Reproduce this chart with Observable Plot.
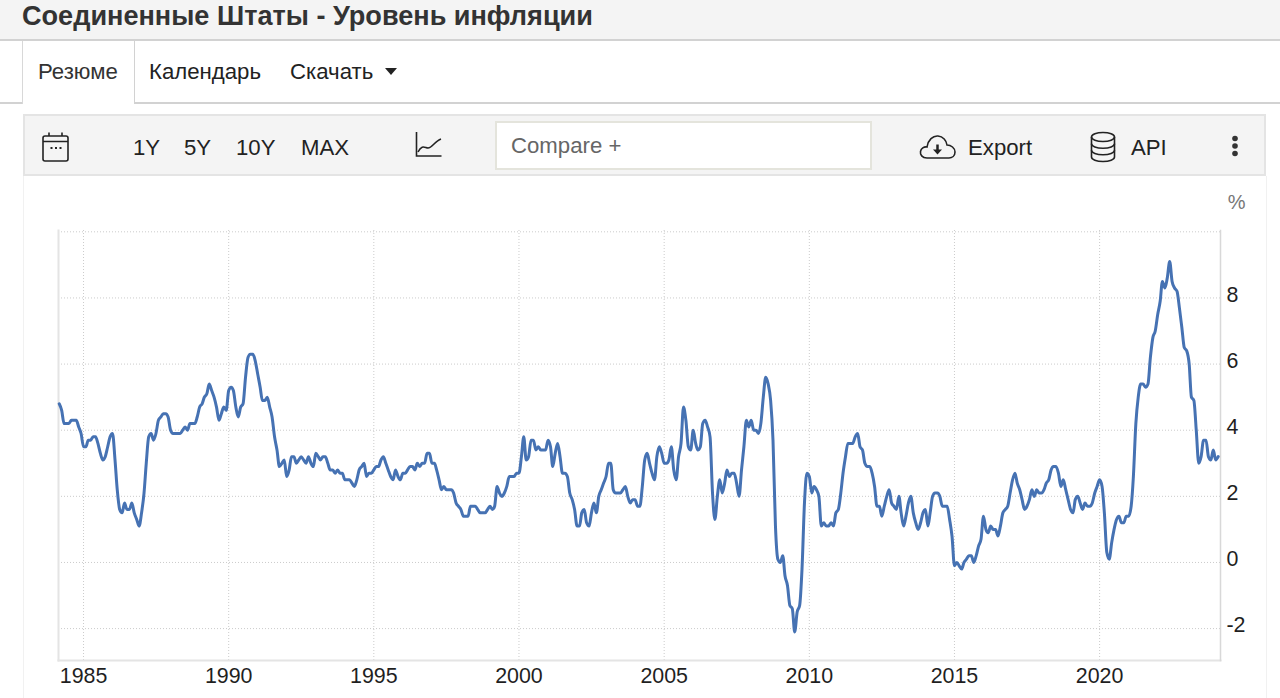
<!DOCTYPE html>
<html lang="ru">
<head>
<meta charset="utf-8">
<title>Соединенные Штаты - Уровень инфляции</title>
<script src="https://cdn.jsdelivr.net/npm/d3@7"></script>
<script src="https://cdn.jsdelivr.net/npm/@observablehq/plot@0.6"></script>
<style>
  html,body{margin:0;padding:0;background:#fff;width:1280px;height:698px;overflow:hidden;font-family:"Liberation Sans",Arial,sans-serif;color:#222;}
  .abs{position:absolute;white-space:nowrap;}
  #titlebar{left:0;top:0;width:1280px;height:39px;background:#f4f4f4;border-bottom:2px solid #d2d2d2;}
  #title{left:22px;top:0;font-size:27.1px;font-weight:bold;color:#333;line-height:32px;height:32px;}
  .tabline{top:102px;height:2px;background:#d2d2d2;}
  #active{left:22px;top:41px;width:111px;height:63px;background:#fff;border-left:1px solid #d8d8d8;border-right:1px solid #d2d2d2;}
  .tab{top:59px;font-size:22.2px;line-height:26px;color:#222;}
  #caret{left:385px;top:68px;width:0;height:0;border-left:6.5px solid transparent;border-right:6.5px solid transparent;border-top:7px solid #222;}
  #toolbar{left:23px;top:114px;width:1239px;height:58px;background:#f4f4f4;border:2px solid #e4e4e4;}
  #compare{left:495px;top:121px;width:373px;height:45px;background:#fff;border:2px solid #e4e4dc;}
  .tool{top:134px;font-size:22.2px;line-height:28px;color:#222;}
  #panelL{left:23px;top:176px;width:1px;height:522px;background:#f1f1f1;}
  #panelR{left:1266px;top:176px;width:1px;height:522px;background:#f1f1f1;}
  #chart{position:absolute;left:0;top:176px;}
  svg.icon{position:absolute;fill:none;stroke:#222;stroke-width:1.6;}
</style>
</head>
<body>
<div class="abs" id="titlebar"></div>
<div class="abs" id="title">Соединенные Штаты - Уровень инфляции</div>
<div class="abs tabline" style="left:0;width:22px"></div>
<div class="abs tabline" style="left:134px;width:1146px"></div>
<div class="abs" id="active"></div>
<div class="abs tab" style="left:38px;color:#333">Резюме</div>
<div class="abs tab" style="left:149px">Календарь</div>
<div class="abs tab" style="left:290px">Скачать</div>
<div class="abs" id="caret"></div>
<div class="abs" id="toolbar"></div>
<div class="abs" id="compare"></div>
<div class="abs tool" style="left:133px">1Y</div>
<div class="abs tool" style="left:184px">5Y</div>
<div class="abs tool" style="left:236px">10Y</div>
<div class="abs tool" style="left:301px">MAX</div>
<div class="abs tool" style="left:511px;top:132px;color:#666">Compare +</div>
<div class="abs tool" style="left:968px">Export</div>
<div class="abs tool" style="left:1131px">API</div>
<svg class="icon" style="left:41px;top:131px" width="30" height="32" viewBox="0 0 30 32">
  <rect x="2" y="5" width="25" height="25" rx="2"/><path d="M2 10.5H27M8 1.5V5M21 1.5V5"/>
  <path d="M9.5 17h2M14 17h2M18.5 17h2" stroke-width="2.2"/>
</svg>
<svg class="icon" style="left:414px;top:130px" width="30" height="30" viewBox="0 0 30 30">
  <path d="M2.5 2V26H27.500"/><path d="M4 22C8 14 11 18 14 18C18 18 21 11 27 9"/>
</svg>
<svg class="icon" style="left:919px;top:133px" width="38" height="28" viewBox="0 0 38 28">
  <path d="M8 25C3 25 1 21.500 1.500 18.500C2 15.500 5 13.500 8 14C9 7 14 2.500 19 3C24 3.500 27.500 7.500 28 12C32 12 36 15 36 19C36 23 33 25 30 25Z"/>
  <path d="M18.500 11.500V17" stroke-width="2.500"/><path d="M14 16.500H23L18.500 21.500Z" fill="#222" stroke="none"/>
</svg>
<svg class="icon" style="left:1089px;top:131px" width="28" height="32" viewBox="0 0 28 32">
  <ellipse cx="14" cy="6" rx="11.500" ry="4.500"/><path d="M2.500 6V26C2.500 28.500 7.500 30.500 14 30.500C20.500 30.500 25.500 28.500 25.500 26V6"/>
  <path d="M2.500 12.700C2.500 15.200 7.500 17.200 14 17.200C20.500 17.200 25.500 15.200 25.500 12.700M2.500 19.300C2.500 21.800 7.500 23.800 14 23.800C20.500 23.800 25.500 21.800 25.500 19.300"/>
</svg>
<svg class="icon" style="left:1229px;top:134px" width="12" height="24" viewBox="0 0 12 24">
  <circle cx="6" cy="4.500" r="2.800" fill="#333" stroke="none"/><circle cx="6" cy="12" r="2.800" fill="#333" stroke="none"/><circle cx="6" cy="19.500" r="2.800" fill="#333" stroke="none"/>
</svg>
<div class="abs" id="panelL"></div>
<div class="abs" id="panelR"></div>
<div id="chart"></div>
<script>
// US year-on-year inflation, %, one value per month, first value March 1984
const firstMonth = new Date(Date.UTC(1984, 2, 1));
const values1984to1989 = [
  4.8,4.6,4.2,4.2,4.2,4.3,4.3,4.3,4.1,3.9,
  3.5,3.5,3.7,3.7,3.8,3.8,3.6,3.3,3.1,3.2,3.5,3.8,
  3.9,3.1,2.2,1.6,1.5,1.8,1.6,1.6,1.8,1.5,1.3,1.1,
  1.5,2.1,3.0,3.8,3.9,3.7,3.9,4.3,4.4,4.5,4.5,4.4,
  4.0,3.9,3.9,3.9,3.9,4.0,4.1,4.0,4.2,4.2,4.2,4.4,
  4.7,4.8,5.0,5.1,5.4,5.2,5.0,4.7,4.3,4.5,4.7,4.6
];
const values1990s = [
  5.2,5.3,5.2,4.7,4.4,4.7,4.8,5.6,6.2,6.3,6.3,6.1,
  5.7,5.3,4.9,4.9,5.0,4.7,4.4,3.8,3.4,2.9,3.0,3.1,
  2.6,2.8,3.2,3.2,3.0,3.1,3.2,3.1,3.0,3.2,3.0,2.9,
  3.3,3.2,3.1,3.2,3.2,3.0,2.8,2.8,2.7,2.8,2.7,2.7,
  2.5,2.5,2.5,2.4,2.3,2.5,2.8,2.9,3.0,2.6,2.7,2.7,
  2.8,2.9,2.9,3.1,3.2,3.0,2.8,2.6,2.5,2.8,2.6,2.5,
  2.7,2.7,2.8,2.9,2.9,2.8,3.0,2.9,3.0,3.0,3.3,3.3,
  3.0,3.0,2.8,2.5,2.2,2.3,2.2,2.2,2.2,2.1,1.8,1.7,
  1.6,1.4,1.4,1.4,1.7,1.7,1.7,1.6,1.5,1.5,1.5,1.6,
  1.7,1.6,1.7,2.3,2.1,2.0,2.1,2.3,2.6,2.6,2.6,2.7
];
const values2000s = [
  2.7,3.2,3.8,3.1,3.2,3.7,3.7,3.4,3.5,3.4,3.4,3.4,
  3.7,3.5,2.9,3.3,3.6,3.2,2.7,2.7,2.6,2.1,1.9,1.6,
  1.1,1.1,1.5,1.6,1.2,1.1,1.5,1.8,1.5,2.0,2.2,2.4,
  2.6,3.0,3.0,2.2,2.1,2.1,2.1,2.2,2.3,2.0,1.8,1.9,
  1.9,1.7,1.7,2.3,3.1,3.3,3.0,2.7,2.5,3.2,3.5,3.3,
  3.0,3.0,3.1,3.5,2.8,2.5,3.2,3.6,4.7,4.3,3.5,3.4,
  4.0,3.6,3.4,3.5,4.2,4.3,4.1,3.8,2.1,1.3,2.0,2.5,
  2.1,2.4,2.8,2.6,2.7,2.7,2.4,2.0,2.8,3.5,4.3,4.1,
  4.3,4.0,4.0,3.9,4.2,5.0,5.6,5.4,4.9,3.7,1.1,0.1,
  0.0,0.2,-0.4,-0.7,-1.3,-1.4,-2.1,-1.5,-1.3,-0.2,1.8,2.7
];
const values2010s = [
  2.6,2.1,2.3,2.2,2.0,1.1,1.2,1.1,1.1,1.2,1.1,1.5,
  1.6,2.1,2.7,3.2,3.6,3.6,3.6,3.8,3.9,3.5,3.4,3.0,
  2.9,2.9,2.7,2.3,1.7,1.7,1.4,1.7,2.0,2.2,1.8,1.7,
  1.6,2.0,1.5,1.1,1.4,1.8,2.0,1.5,1.2,1.0,1.2,1.5,
  1.6,1.1,1.5,2.0,2.1,2.1,2.0,1.7,1.7,1.7,1.3,0.8,
  -0.1,0.0,-0.1,-0.2,0.0,0.1,0.2,0.2,0.0,0.2,0.5,0.7,
  1.4,1.0,0.9,1.1,1.0,1.0,0.8,1.1,1.5,1.6,1.7,2.1,
  2.5,2.7,2.4,2.2,1.9,1.6,1.7,1.9,2.2,2.0,2.2,2.1,
  2.1,2.2,2.4,2.5,2.8,2.9,2.9,2.7,2.3,2.5,2.2,1.9,
  1.6,1.5,1.9,2.0,1.8,1.6,1.8,1.7,1.7,1.8,2.1,2.3
];
const values2020s = [
  2.5,2.3,1.5,0.3,0.1,0.6,1.0,1.3,1.4,1.2,1.2,1.4,
  1.4,1.7,2.6,4.2,5.0,5.4,5.4,5.3,5.4,6.2,6.8,7.0,
  7.5,7.9,8.5,8.3,8.6,9.1,8.5,8.3,8.2,7.7,7.1,6.5,
  6.4,6.0,5.0,4.9,4.0,3.0,3.2,3.7,3.7,3.2,3.1,3.4,
  3.1,3.2
];
const yTicks = [-2, 0, 2, 4, 6, 8];
const yGrid = [-2, 0, 2, 4, 6, 8, 10];
const xTickYears = [1985, 1990, 1995, 2000, 2005, 2010, 2015, 2020];
const xDomain = [new Date(Date.UTC(1984, 1, 21)), new Date(Date.UTC(2024, 2, 1))];
const yDomain = [-2.965, 10.04];
const unitLabel = "%";

const inflation = [...values1984to1989, ...values1990s, ...values2000s, ...values2010s, ...values2020s];
const series = inflation.map((value, i) => ({date: d3.utcMonth.offset(firstMonth, i), value}));
const xTicks = xTickYears.map(y => new Date(Date.UTC(y, 0, 1)));

const gridColor = "#cbcbcb";
const inkColor = "#1f1f1f";

const plot = Plot.plot({
  width: 1280,
  height: 522,
  marginLeft: 58,
  marginRight: 60,
  marginTop: 54,
  marginBottom: 38,
  style: {background: "transparent", fontFamily: '"Liberation Sans", Arial, sans-serif', fontSize: "21px", overflow: "visible"},
  x: {type: "utc", domain: xDomain},
  y: {domain: yDomain},
  marks: [
    Plot.ruleY(yGrid, {stroke: gridColor, strokeWidth: 1, strokeDasharray: "1,2"}),
    Plot.ruleX(xTicks, {stroke: gridColor, strokeWidth: 1, strokeDasharray: "1,2"}),
    Plot.frame({anchor: "left", stroke: "#e4e4e4", strokeWidth: 2}),
    Plot.frame({anchor: "bottom", stroke: "#e4e4e4", strokeWidth: 2}),
    Plot.frame({anchor: "right", stroke: "#d8d8d8", strokeWidth: 1.5}),
    Plot.axisX({ticks: xTicks, tickSize: 0, tickPadding: 7, tickFormat: d3.utcFormat("%Y"), fill: inkColor, label: null, fontSize: 21.4}),
    Plot.axisY({anchor: "right", ticks: yTicks, tickSize: 0, tickPadding: 6, dy: -3, tickFormat: d => String(d), fill: inkColor, label: null, fontSize: 21.4}),
    Plot.text([unitLabel], {frameAnchor: "top-right", dx: 25, dy: -36, textAnchor: "end", fill: "#777", fontSize: 20}),
    Plot.line(series, {x: "date", y: "value", stroke: "#4672b3", strokeWidth: 3, curve: "monotone-x"})
  ]
});
document.getElementById("chart").appendChild(plot);
</script>
</body>
</html>
